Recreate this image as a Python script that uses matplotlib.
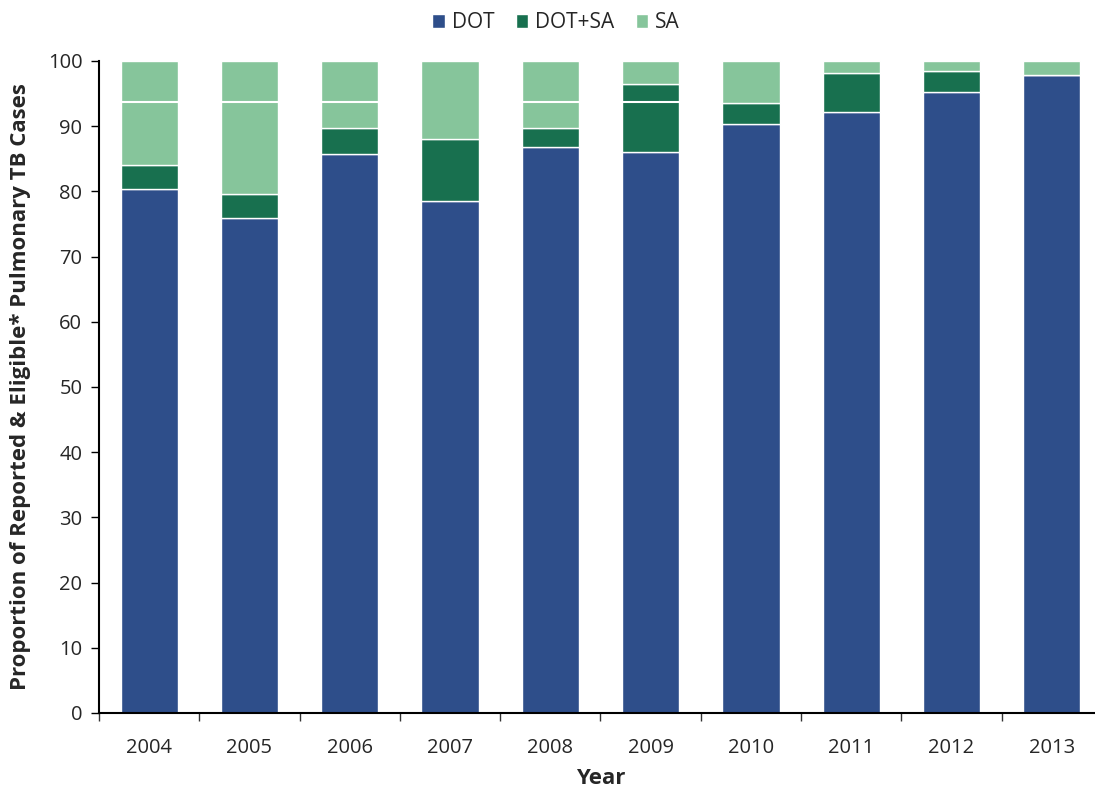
import numpy as np
import matplotlib
matplotlib.use("Agg")
import matplotlib.pyplot as plt

plt.rcParams["font.family"] = ["Open Sans", "DejaVu Sans"]

years = ["2004", "2005", "2006", "2007", "2008", "2009", "2010", "2011", "2012", "2013"]
dot = [80.3, 75.9, 85.8, 78.5, 86.8, 86.0, 90.3, 92.2, 95.2, 97.9]
dot_sa = [3.7, 3.7, 3.9, 9.6, 2.9, 10.5, 3.2, 5.9, 3.2, 0.0]
sa = [16.0, 20.4, 10.3, 11.9, 10.3, 3.5, 6.5, 1.9, 1.6, 2.1]
# thin white divider that appears inside some of the bars
split_years = ["2004", "2005", "2006", "2008", "2009"]
split_value = 93.7

colors = {"DOT": "#2E4E8A", "DOT+SA": "#18704F", "SA": "#86C59B"}
text_color = "#262626"

x = np.arange(len(years))
width = 0.57

fig = plt.figure(figsize=(10.95, 7.9), dpi=100)
ax = fig.add_axes([0.0904, 0.0975, 0.916, 0.8253])

bottom = np.zeros(len(years))
for name, vals in [("DOT", dot), ("DOT+SA", dot_sa), ("SA", sa)]:
    vals = np.array(vals)
    ax.bar(x, vals, width, bottom=bottom, color=colors[name], edgecolor="white",
           linewidth=1.0, label=name, zorder=2)
    bottom += vals

for yr in split_years:
    i = years.index(yr)
    ax.hlines(split_value, i - width / 2, i + width / 2, color="white", lw=1.5, zorder=3)

ax.set_xlim(-0.5, len(years) - 0.5)
ax.set_ylim(0, 100)
ax.set_yticks(np.arange(0, 101, 10))
ax.set_xticks(x)
ax.set_xticklabels(years)
ax.set_xticks(np.arange(-0.5, len(years), 1), minor=True)
ax.tick_params(axis="x", which="major", length=0, pad=18, labelsize=14.5, labelcolor=text_color)
ax.tick_params(axis="x", which="minor", length=6, width=1, color="#333333")
ax.tick_params(axis="y", length=6, width=1, labelsize=14.5, labelcolor=text_color, pad=6)

for side in ["top", "right"]:
    ax.spines[side].set_visible(False)
ax.spines["left"].set_linewidth(1.5)
ax.spines["bottom"].set_linewidth(1.5)

ax.set_ylabel("Proportion of Reported & Eligible* Pulmonary TB Cases", fontsize=16,
              fontweight="bold", color=text_color, labelpad=12)
ax.set_xlabel("Year", fontsize=16, fontweight="bold", color=text_color, labelpad=7)

fig.legend(loc="upper center", bbox_to_anchor=(0.508, 1.008), ncol=3, frameon=False,
           fontsize=15, handlelength=0.6, handleheight=0.6, handletextpad=0.35,
           columnspacing=1.0, labelcolor=text_color)

fig.savefig("out.png", dpi=100)
